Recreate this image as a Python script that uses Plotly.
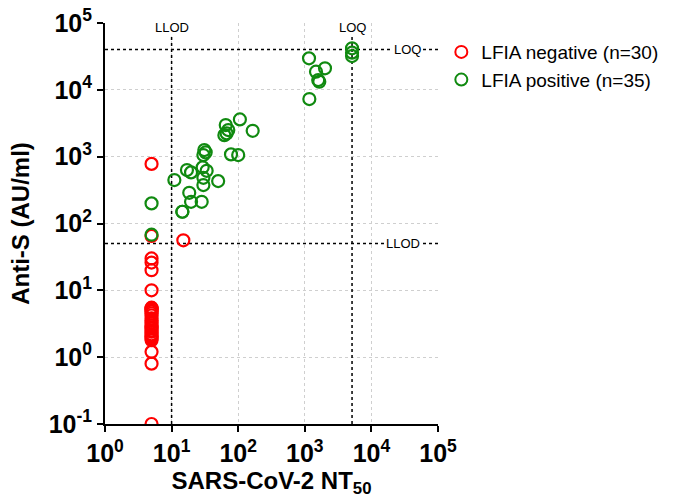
import math
import plotly.graph_objects as go

# ---- data ----
neg_nt50 = [5, 5, 15, 5, 5, 5, 5, 5, 5, 5, 5, 5, 5, 5, 5, 5, 5, 5,
            5, 5, 5, 5, 5, 5, 5, 5, 5, 5, 5, 5]
neg_antis = [780, 65, 56, 30, 26, 20, 10, 5.4, 4.8, 3.8, 3.3, 2.7, 2.4, 2.0, 1.8, 1.2, 0.8, 0.1,
             5.5, 5.0, 4.5, 4.2, 3.5, 3.0, 2.8, 2.5, 2.2, 2.1, 1.9, 5.2]

pos_nt50 = [5, 5, 11, 14.5, 14.5, 17, 19.6, 18.4, 19.6, 28.3, 29.3, 33.6, 30, 30, 50,
            31, 32.5, 30, 78, 100, 65, 62, 67, 71, 106, 165,
            1157, 1170, 1473, 2010, 1650, 1590, 5120, 5120, 5120]
pos_antis = [200, 68, 447, 150, 150, 630, 582, 288, 211, 211, 692, 615, 483, 376, 431,
             1256, 1160, 1057, 1082, 1057, 2970, 2100, 2230, 2500, 3610, 2440,
             29600, 7280, 18700, 21000, 13200, 14000, 41800, 36000, 32000]

llod_x, loq_x = 10, 5120
llod_y, loq_y = 50, 40000

x_tickvals = [1, 10, 100, 1000, 10000, 100000]
x_ticktext = ["<b>10<sup>0</sup></b>", "<b>10<sup>1</sup></b>", "<b>10<sup>2</sup></b>",
              "<b>10<sup>3</sup></b>", "<b>10<sup>4</sup></b>", "<b>10<sup>5</sup></b>"]
y_tickvals = [0.1, 1, 10, 100, 1000, 10000, 100000]
y_ticktext = ["<b>10<sup>-1</sup></b>", "<b>10<sup>0</sup></b>", "<b>10<sup>1</sup></b>",
              "<b>10<sup>2</sup></b>", "<b>10<sup>3</sup></b>", "<b>10<sup>4</sup></b>",
              "<b>10<sup>5</sup></b>"]

RED = "#ff0000"
GREEN = "#108a10"
FONT = "Liberation Sans, Arial, sans-serif"

fig = go.Figure()

# reference lines (dotted)
dot = dict(color="black", width=1.5, dash="dot")
fig.add_trace(go.Scatter(x=[llod_x, llod_x], y=[0.1, 100000], mode="lines", line=dot,
                         showlegend=False, hoverinfo="skip"))
fig.add_trace(go.Scatter(x=[loq_x, loq_x], y=[0.1, 100000], mode="lines", line=dot,
                         showlegend=False, hoverinfo="skip"))
fig.add_trace(go.Scatter(x=[1, 100000], y=[llod_y, llod_y], mode="lines", line=dot,
                         showlegend=False, hoverinfo="skip"))
fig.add_trace(go.Scatter(x=[1, 100000], y=[loq_y, loq_y], mode="lines", line=dot,
                         showlegend=False, hoverinfo="skip"))

marker_common = dict(symbol="circle-open", size=12)
fig.add_trace(go.Scatter(x=neg_nt50, y=neg_antis, mode="markers",
                         name="LFIA negative (n=30)",
                         marker=dict(color=RED, line=dict(width=2.2, color=RED), **marker_common)))
fig.add_trace(go.Scatter(x=pos_nt50, y=pos_antis, mode="markers",
                         name="LFIA positive (n=35)",
                         marker=dict(color=GREEN, line=dict(width=2.2, color=GREEN), **marker_common)))

ann_font = dict(family=FONT, size=13, color="black")
annotations = [
    dict(x=math.log10(llod_x), y=0.99, xref="x", yref="paper", text="LLOD", showarrow=False,
         xanchor="center", yanchor="middle", bgcolor="white", font=ann_font, borderpad=1),
    dict(x=math.log10(loq_x), y=0.99, xref="x", yref="paper", text="LOQ", showarrow=False,
         xanchor="center", yanchor="middle", bgcolor="white", font=ann_font, borderpad=1),
    dict(x=0.895, y=math.log10(llod_y), xref="paper", yref="y", text="LLOD", showarrow=False,
         xanchor="center", yanchor="middle", bgcolor="white", font=ann_font, borderpad=1),
    dict(x=0.907, y=math.log10(loq_y), xref="paper", yref="y", text="LOQ", showarrow=False,
         xanchor="center", yanchor="middle", bgcolor="white", font=ann_font, borderpad=1),
]

axis_common = dict(
    type="log", showline=True, linecolor="black", linewidth=2,
    ticks="outside", ticklen=6, tickwidth=2, tickcolor="black",
    showgrid=True, gridcolor="#cfcfcf", griddash="dot", gridwidth=1,
    zeroline=False, automargin=False, ticklabeloverflow="allow",
    tickfont=dict(family=FONT, size=25, color="black"),
)

fig.update_layout(
    width=695, height=498,
    margin=dict(l=105, r=257, t=23, b=74),
    plot_bgcolor="white", paper_bgcolor="white",
    font=dict(family=FONT, color="black"),
    xaxis=dict(range=[0, 5], tickvals=x_tickvals, ticktext=x_ticktext,
               title=dict(text="<b>SARS-CoV-2 NT<sub>50</sub></b>",
                          font=dict(family=FONT, size=24), standoff=6),
               **axis_common),
    yaxis=dict(range=[-1, 5], tickvals=y_tickvals, ticktext=y_ticktext,
               title=dict(text="<b>Anti-S (AU/ml)</b>",
                          font=dict(family=FONT, size=24), standoff=12),
               **axis_common),
    legend=dict(x=1.01, y=0.975, xanchor="left", yanchor="top",
                font=dict(family=FONT, size=19, color="black"),
                bgcolor="rgba(0,0,0,0)", itemsizing="constant", tracegroupgap=2),
    annotations=annotations,
    showlegend=True,
)

# remove the default 8px page margin so the figure sits at the window's corner
fig.write_html("out.html",
               config={"displayModeBar": False},
               post_script="document.body.style.margin='0';document.body.style.overflow='hidden';")
